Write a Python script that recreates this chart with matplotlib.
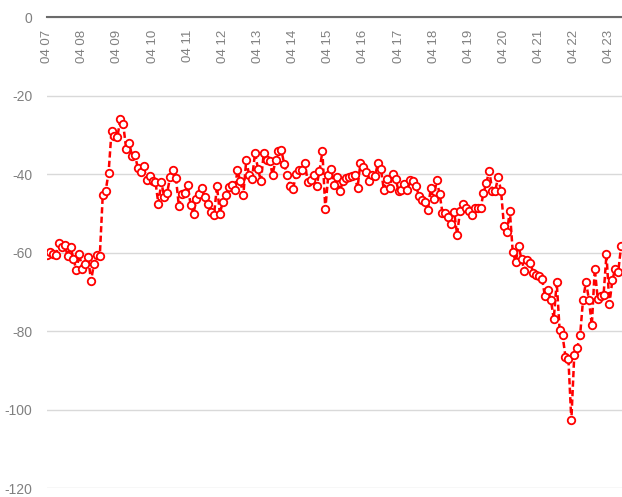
import matplotlib
matplotlib.use("Agg")
import matplotlib.pyplot as plt

plt.rcParams['font.family'] = ['Liberation Sans', 'DejaVu Sans']
plt.rcParams['axes.unicode_minus'] = False

tick_labels = ["04 07", "04 08", "04 09", "04 10", "04 11", "04 12", "04 13", "04 14",
               "04 15", "04 16", "04 17", "04 18", "04 19", "04 20", "04 21", "04 22", "04 23"]

values = [
    -60.6, -59.8, -60.2, -60.5, -57.4, -58.5, -57.9, -60.8, -58.5, -61.5, -64.5, -60.4,
    -64.0, -62.8, -61.0, -67.2, -62.8, -60.6, -60.8, -45.4, -44.2, -39.6, -29.0, -30.3,
    -30.5, -26.0, -27.3, -33.5, -31.9, -35.3, -35.0, -38.5, -39.4, -38.0, -41.5, -40.5,
    -41.8, -42.0, -47.5, -42.0, -45.8, -44.7, -40.7, -38.8, -40.9, -48.2, -44.9, -44.7,
    -42.8, -47.7, -50.0, -46.2, -44.9, -43.6, -45.8, -47.6, -49.6, -50.4, -43.0, -50.0,
    -47.0, -45.3, -43.2, -42.6, -44.1, -39.0, -41.8, -45.3, -36.4, -40.3, -41.1, -34.5,
    -38.6, -41.8, -34.5, -36.4, -36.7, -40.1, -36.4, -34.1, -33.9, -37.5, -40.3, -43.0,
    -43.8, -39.8, -39.0, -39.0, -37.0, -42.0, -41.5, -40.3, -43.0, -39.2, -34.1, -48.9,
    -40.3, -38.7, -42.6, -40.7, -44.3, -41.8, -40.9, -40.7, -40.4, -40.1, -43.5, -37.0,
    -38.1, -39.4, -41.8, -40.1, -40.4, -37.0, -38.7, -44.1, -41.1, -43.6, -39.8, -41.1,
    -44.3, -44.1, -42.5, -44.1, -41.5, -41.7, -43.1, -45.6, -46.6, -47.0, -49.0, -43.6,
    -46.4, -41.5, -44.9, -49.8, -49.8, -50.9, -52.6, -49.6, -55.4, -49.3, -47.5, -48.7,
    -49.4, -50.4, -48.7, -48.5, -48.7, -44.8, -42.1, -39.1, -44.3, -44.2, -40.8, -44.2,
    -53.2, -54.8, -49.3, -59.8, -62.3, -58.3, -61.7, -64.6, -61.9, -62.6, -65.1, -65.7,
    -66.0, -66.6, -71.1, -69.6, -71.9, -76.9, -67.4, -79.6, -81.0, -86.5, -87.0, -102.7,
    -86.1, -84.2, -81.0, -71.9, -67.4, -71.9, -78.5, -64.0, -71.7, -71.1, -70.8, -60.4,
    -73.1, -67.0, -64.0, -64.9, -58.3,
]

y_ticks = [0, -20, -40, -60, -80, -100, -120]

x = list(range(len(values)))

W, H = 622, 497
fig = plt.figure(figsize=(W / 100, H / 100), dpi=100)
ax = fig.add_axes([46.5 / W, (H - 488.3) / H, (W - 46.5) / W, 471 / H])

for s in ['top', 'left', 'right']:
    ax.spines[s].set_visible(False)
ax.spines['bottom'].set_position(('data', 0))
ax.spines['bottom'].set_color('#6b6b6b')
ax.spines['bottom'].set_linewidth(1.5)
ax.spines['bottom'].set_zorder(4)

ax.plot(x, values, color='#FF0000', lw=1.8, ls=(0, (2.5, 1.3)),
        marker='o', ms=5.4, mfc='white', mec='#FF0000', mew=1.3, zorder=3)

ax.set_ylim(-120, 0)
ax.set_xlim(-0.2, len(values) - 0.7)
ax.set_yticks(y_ticks)
ax.set_yticklabels([str(v) for v in y_ticks])
ax.set_xticks(list(range(0, len(tick_labels) * 12, 12)))
ax.set_xticklabels(tick_labels)

ax.grid(axis='y', color='#d9d9d9', lw=1.0, zorder=0)
ax.set_axisbelow(True)

ax.tick_params(axis='x', length=0, pad=9, labelsize=9.5, labelcolor='#808080',
               labelrotation=90)
ax.tick_params(axis='y', length=0, pad=10, labelsize=10, labelcolor='#808080')

fig.savefig('out.png', dpi=100)
